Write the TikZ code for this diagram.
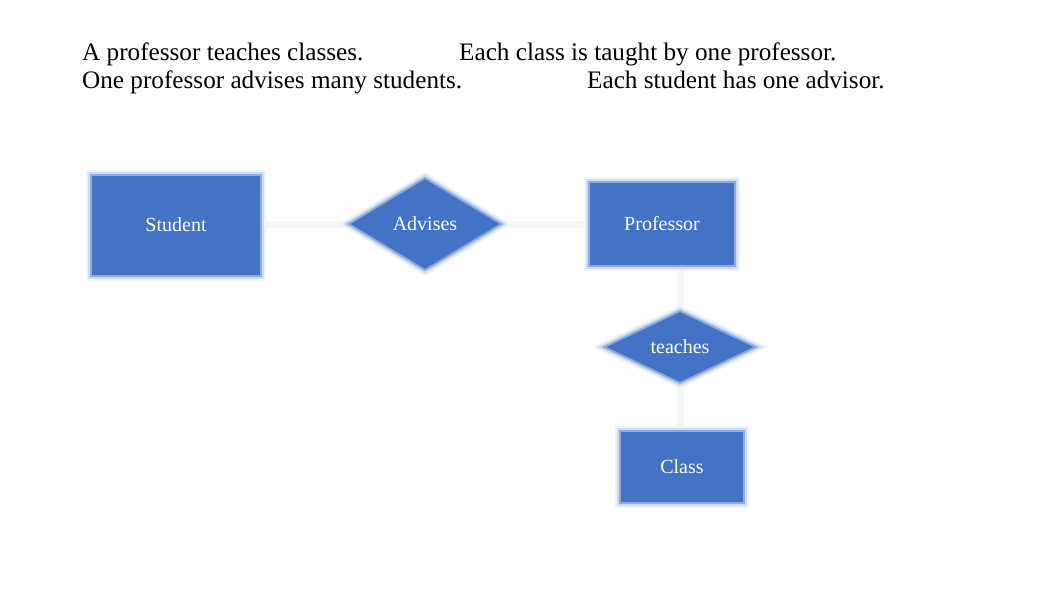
\documentclass[tikz,border=0pt]{standalone}
\usepackage{fontspec}
\setmainfont{Liberation Serif}
\usepackage{tikz}
\usetikzlibrary{shapes.geometric,backgrounds}
\definecolor{boxblue}{HTML}{4472C4}
\definecolor{linkgray}{HTML}{F4F6F4}

\begin{document}
\begin{tikzpicture}[x=1pt,y=-1pt,
  soft/.style={preaction={draw=boxblue!8,line width=10pt},preaction={draw=boxblue!25,line width=6pt},draw=boxblue!60,line width=2pt},
  entity/.style={rectangle,soft,fill=boxblue,text=white,font=\fontsize{20}{24}\selectfont,inner sep=0pt},
  relation/.style={diamond,soft,fill=boxblue,text=white,font=\fontsize{20}{24}\selectfont,inner sep=0pt},
  caption/.style={anchor=base west,inner sep=0pt,font=\fontsize{25.2}{30}\selectfont},
  link/.style={draw=linkgray,line width=7pt}]
\useasboundingbox (0,0) rectangle (1062,598);

\node[caption](t1) at (82,60){A professor teaches classes.};
\node[caption](t2) at (459,60){Each class is taught by one professor.};
\node[caption](t3) at (82,88){One professor advises many students.};
\node[caption](t4) at (587,88){Each student has one advisor.};

\node[entity,minimum width=170pt,minimum height=101pt](student) at (176,225){Student};
\node[relation,minimum width=154pt,minimum height=93pt](advises) at (425,224){Advises};
\node[entity,minimum width=146pt,minimum height=84pt](professor) at (662,224){Professor};
\node[relation,minimum width=153pt,minimum height=59pt](teaches) at (680,347){teaches};
\node[entity,minimum width=124pt,minimum height=72pt](class) at (682,467){Class};

\begin{scope}[on background layer]
\draw[link](student)--(advises);
\draw[link](advises)--(professor);
\draw[link](teaches.north)--(teaches.north|-professor.south);
\draw[link](teaches.south)--(teaches.south|-class.north);
\end{scope}

\end{tikzpicture}
\end{document}
